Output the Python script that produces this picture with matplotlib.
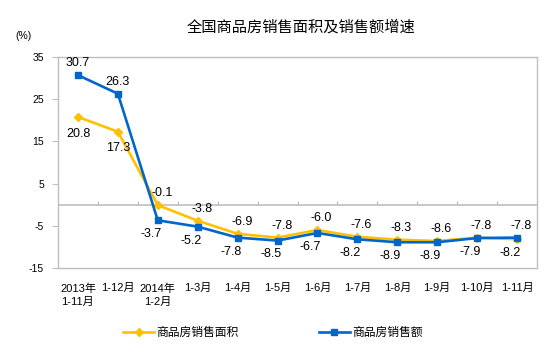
import numpy as np
import matplotlib
matplotlib.use('Agg')
import matplotlib.pyplot as plt
from matplotlib.lines import Line2D

plt.rcParams['font.family'] = ['Liberation Sans', 'Noto Sans CJK SC', 'DejaVu Sans']

title = '全国商品房销售面积及销售额增速'
categories = ['2013年\n1-11月', '1-12月', '2014年\n1-2月', '1-3月', '1-4月', '1-5月',
              '1-6月', '1-7月', '1-8月', '1-9月', '1-10月', '1-11月']
area_growth = [20.8, 17.3, -0.1, -3.8, -6.9, -7.8, -6.0, -7.6, -8.3, -8.6, -7.8, -8.2]
sales_growth = [30.7, 26.3, -3.7, -5.2, -7.8, -8.5, -6.7, -8.2, -8.9, -8.9, -7.9, -7.8]
yticks = [35, 25, 15, 5, -5, -15]
area_name = '商品房销售面积'
sales_name = '商品房销售额'

AREA_COLOR = '#FFC000'
SALES_COLOR = '#0066CC'
GRID_GRAY = '#BFBFBF'

fig = plt.figure(figsize=(5.54, 3.53), dpi=100)
ax = fig.add_axes([58 / 554, 1 - 268 / 353, 479 / 554, 211 / 353])

x = np.arange(len(categories))
area = np.array(area_growth)
sales = np.array(sales_growth)

ax.plot(x, area, color=AREA_COLOR, lw=1.9, marker='D', ms=4.5, zorder=3)
ax.plot(x, sales, color=SALES_COLOR, lw=1.9, marker='s', ms=5, zorder=4)

# data labels: higher series above its point, lower one below
for xi, a, s in zip(x, area, sales):
    for val, other in ((a, s), (s, a)):
        above = val >= other
        dy = 8.5 if above else -10
        dx = 3 if above else -5
        if xi < 2:
            dx = 0
            if not above:
                dy = -12
        ax.annotate(f'{val:.1f}', (xi, val), xytext=(dx, dy), textcoords='offset points',
                    ha='center', va='center', fontsize=9, color='black', zorder=5)

ax.set_xlim(-0.5, len(categories) - 0.5)
ax.set_ylim(-15, 35)
ax.set_yticks(yticks)
ax.set_yticklabels([str(t) for t in yticks], fontsize=7.5)
ax.set_xticks(x)
ax.set_xticklabels(categories, fontsize=8, linespacing=1.45, va='top')
ax.tick_params(axis='x', length=0, pad=11)
ax.tick_params(axis='y', length=4, width=0.8, color=GRID_GRAY, pad=6)

for sp in ax.spines.values():
    sp.set_color(GRID_GRAY)
    sp.set_linewidth(1.0)

# zero axis with upward category ticks
ax.axhline(0, color=GRID_GRAY, lw=1.2, zorder=1)
ax.vlines(x[:-1] + 0.5, 0, 0.9, color=GRID_GRAY, lw=0.9, zorder=1)

fig.text(301 / 554, 1 - 27 / 353, title, ha='center', va='center', fontsize=11)
fig.text(24 / 554, 1 - 36 / 353, '(%)', ha='center', va='center', fontsize=7.5)

handles = [Line2D([], [], color=AREA_COLOR, lw=1.9, marker='D', ms=4.5),
           Line2D([], [], color=SALES_COLOR, lw=1.9, marker='s', ms=5)]
fig.legend(handles, [area_name, sales_name], loc='center', ncol=2, frameon=False,
           bbox_to_anchor=(273 / 554, 1 - 333 / 353), fontsize=8.5,
           handlelength=2.6, handletextpad=0.2, columnspacing=6.8)

fig.savefig('out.png', dpi=100)
